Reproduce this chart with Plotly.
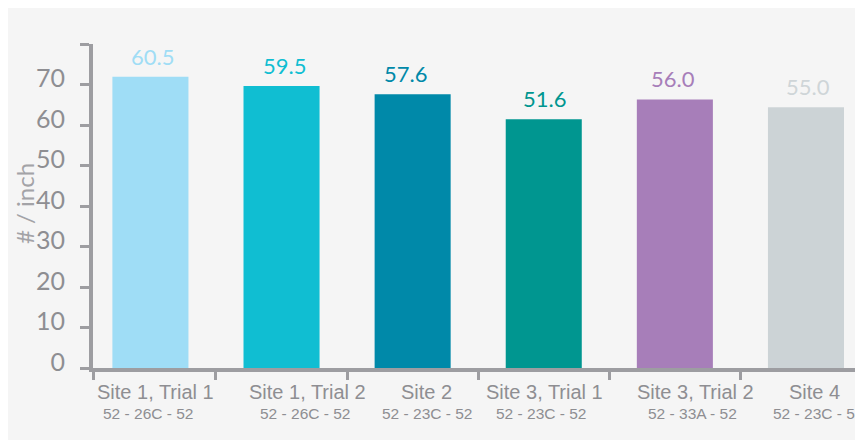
import plotly.graph_objects as go

# ---- data ----
categories = ["Site 1, Trial 1", "Site 1, Trial 2", "Site 2", "Site 3, Trial 1", "Site 3, Trial 2", "Site 4"]
sublabels = ["52 - 26C - 52", "52 - 26C - 52", "52 - 23C - 52", "52 - 23C - 52", "52 - 33A - 52", "52 - 23C - 52"]
bar_values = [71.9, 69.6, 67.6, 61.4, 66.3, 64.4]
value_labels = ["60.5", "59.5", "57.6", "51.6", "56.0", "55.0"]
y_ticks = [0, 10, 20, 30, 40, 50, 60, 70, 80]
y_ticktext = ["0", "10", "20", "30", "40", "50", "60", "70", ""]
y_title = "# / inch"

# ---- style ----
bar_colors = ["#9fddf6", "#10bed2", "#0089a9", "#009690", "#a77eb9", "#ccd3d6"]
label_colors = ["#a0ddf5", "#10bed2", "#0089a9", "#009690", "#a77eb9", "#cfd5d8"]
value_shift = [2, 3, -7, 1, -2, 2]
main_shift = [5, 26, 14, 1, 21, 9]
sub_shift = [-2, 23, 14, -3, 18, 12]
axis_col = "#9d9da1"
text_col = "#8e8e92"
x_range = [-0.438, 5.435]

xpos = list(range(len(categories)))

fig = go.Figure()
fig.add_trace(go.Bar(
    x=xpos, y=bar_values, width=0.58,
    marker=dict(color=bar_colors, line=dict(width=0)),
    hoverinfo="skip", showlegend=False,
))

annotations = []
for i, (v, t) in enumerate(zip(bar_values, value_labels)):
    annotations.append(dict(
        x=i, y=v, xref="x", yref="y", text=t, showarrow=False,
        yanchor="bottom", yshift=5, xshift=value_shift[i],
        font=dict(family="Lato", size=22, color=label_colors[i]),
    ))
for i, (c, s) in enumerate(zip(categories, sublabels)):
    annotations.append(dict(
        x=i, y=0, xref="x", yref="y", text=c, showarrow=False,
        yanchor="middle", yshift=-24, xshift=main_shift[i],
        font=dict(family="Liberation Sans, Arial", size=20, color=text_col),
    ))
    annotations.append(dict(
        x=i, y=0, xref="x", yref="y", text=s, showarrow=False,
        yanchor="middle", yshift=-45, xshift=sub_shift[i],
        font=dict(family="Liberation Sans, Arial", size=15.5, color=text_col),
    ))
annotations.append(dict(
    x=0, y=0.5, xref="paper", yref="paper", text=y_title, showarrow=False,
    textangle=-90, xanchor="center", yanchor="middle", xshift=-69, yshift=2,
    font=dict(family="Lato", size=24, color="#a3a3a7"),
))

fig.update_layout(
    width=855, height=432,
    margin=dict(l=85, r=0, t=36, b=72),
    paper_bgcolor="#f5f5f5",
    plot_bgcolor="#f5f5f5",
    annotations=annotations,
    xaxis=dict(
        range=x_range, showgrid=False, zeroline=False,
        showline=True, linecolor=axis_col, linewidth=4,
        tickmode="array", tickvals=[x_range[0], 0.5, 1.5, 2.5, 3.5, 4.5],
        showticklabels=False, ticks="outside", ticklen=8, tickwidth=2.5, tickcolor=axis_col,
    ),
    yaxis=dict(
        range=[0, 80], showgrid=False, zeroline=False,
        showline=True, linecolor=axis_col, linewidth=4,
        tickmode="array", tickvals=y_ticks, ticktext=y_ticktext,
        ticks="outside", ticklen=9, tickwidth=2.5, tickcolor=axis_col,
        tickfont=dict(family="Lato", size=25, color=text_col),
        ticklabelshift=-6, ticklabelstandoff=10,
    ),
)

fig.write_html("out.html")
